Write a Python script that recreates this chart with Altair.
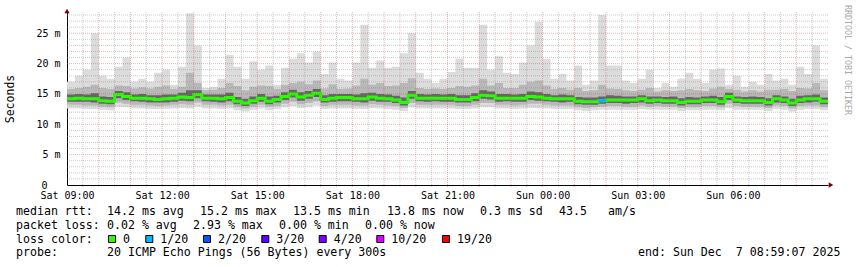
import json
import altair as alt
import pandas as pd

# ---------------- data (15-minute bins, hours since Sat 09:00) ----------------
bin_hours = [i * 0.25 for i in range(96)]

median = [14.2,14.3,14.2,14.2,13.9,13.8,14.9,14.6,14.3,14.3,14.2,14.1,14.2,14.3,14.5,14.4,14.9,14.3,14.3,14.2,14.4,13.8,13.5,13.9,
          14.3,13.8,14.1,14.6,15.0,14.5,14.8,15.1,14.1,14.3,14.4,14.4,14.2,14.2,14.5,14.3,14.2,14.0,13.6,14.8,14.3,14.3,14.3,14.3,
          14.3,14.1,14.1,14.4,14.8,14.7,14.3,14.3,14.3,14.3,14.6,14.5,14.3,14.2,14.2,14.2,13.8,13.7,13.7,13.9,14.0,14.0,14.0,14.0,
          14.2,13.9,14.0,13.9,13.9,13.6,13.8,13.8,14.0,14.0,13.7,14.6,14.0,13.9,13.9,13.9,13.6,14.2,14.0,13.5,14.0,14.2,14.2,13.8]

max_rtt = [17.0,18.0,19.0,25.0,18.0,17.5,19.5,21.0,17.0,17.5,17.0,18.5,19.0,16.5,19.5,28.3,23.0,16.0,16.2,17.5,21.4,19.5,17.5,20.4,
           19.0,19.7,16.5,19.3,20.8,21.7,20.2,22.0,18.3,20.2,17.5,17.2,20.2,26.4,19.3,20.5,19.3,19.5,21.7,25.0,18.5,17.5,16.8,17.5,
           18.6,20.8,19.3,19.3,26.4,19.0,21.2,18.5,18.3,20.2,23.0,26.9,20.8,17.5,18.3,17.2,19.7,16.5,17.2,28.0,19.7,19.7,17.2,16.8,
           17.5,19.0,16.0,16.8,16.2,17.5,18.5,17.5,16.8,19.0,19.2,16.5,18.0,16.2,17.0,16.5,18.3,17.2,17.5,16.5,19.5,18.3,23.0,17.5]

hi2 = [15.8,16.0,16.2,16.5,16.0,15.8,16.4,16.3,15.9,16.1,15.9,16.2,16.4,15.8,16.2,18.5,16.8,15.6,15.7,16.0,16.8,16.3,15.6,16.2,
       16.4,16.3,15.8,16.5,16.8,17.0,16.6,17.2,15.9,16.6,15.8,15.9,16.4,17.5,16.5,16.8,16.3,16.4,16.8,17.6,16.0,15.8,15.9,15.8,
       16.0,16.3,16.2,16.4,17.5,16.4,16.8,16.0,16.0,16.5,17.0,17.2,16.4,15.8,16.0,15.7,16.0,15.5,15.6,16.5,15.9,15.8,15.6,15.5,
       15.7,16.0,15.4,15.6,15.5,15.6,15.8,15.6,15.5,15.9,16.2,15.8,15.7,15.4,15.6,15.4,15.7,15.7,15.8,15.5,16.0,15.9,16.8,15.6]

hi1 = [14.9,15.0,14.9,15.1,14.6,14.5,15.5,15.3,14.9,15.0,14.8,14.8,14.9,14.9,15.2,15.6,15.6,14.9,14.9,14.9,15.2,14.5,14.2,14.6,
       15.0,14.6,14.7,15.3,15.7,15.3,15.5,15.8,14.8,15.0,15.0,15.0,14.9,15.1,15.2,15.0,14.9,14.7,14.4,15.5,15.0,14.9,15.0,14.9,
       15.0,14.8,14.8,15.1,15.6,15.4,15.0,15.0,14.9,15.0,15.4,15.3,15.0,14.8,14.9,14.8,14.5,14.4,14.4,14.6,14.8,14.7,14.6,14.6,
       14.8,14.6,14.6,14.5,14.6,14.3,14.5,14.4,14.6,14.7,14.5,15.2,14.6,14.5,14.6,14.5,14.3,14.8,14.6,14.2,14.7,14.8,14.9,14.4]

lo0 = [13.7,13.7,13.7,13.6,13.4,13.3,14.3,14.0,13.8,13.7,13.6,13.6,13.6,13.7,13.9,13.8,14.3,13.8,13.7,13.6,13.8,13.3,13.0,13.4,
       13.7,13.3,13.6,14.0,14.4,13.9,14.2,14.5,13.6,13.7,13.8,13.8,13.7,13.6,13.9,13.7,13.7,13.5,13.1,14.2,13.8,13.7,13.8,13.7,
       13.7,13.6,13.6,13.8,14.2,14.1,13.7,13.8,13.7,13.7,14.0,13.9,13.8,13.7,13.6,13.7,13.3,13.2,13.2,13.4,13.5,13.5,13.4,13.5,
       13.6,13.4,13.5,13.4,13.4,13.1,13.3,13.3,13.5,13.5,13.2,14.0,13.5,13.4,13.4,13.4,13.1,13.6,13.5,13.0,13.5,13.6,13.7,13.3]

lo1 = [13.2,13.2,13.1,13.1,12.9,12.8,13.6,13.4,13.2,13.2,13.1,13.0,13.1,13.2,13.3,13.2,13.6,13.2,13.2,13.1,13.2,12.8,12.6,12.9,
       13.2,12.9,13.0,13.4,13.7,13.3,13.5,13.8,13.0,13.2,13.2,13.2,13.1,13.1,13.3,13.2,13.1,13.0,12.7,13.5,13.2,13.2,13.2,13.2,
       13.2,13.0,13.0,13.2,13.5,13.5,13.2,13.2,13.1,13.2,13.4,13.4,13.2,13.1,13.1,13.1,12.8,12.7,12.8,12.9,13.0,13.0,12.9,12.9,
       13.1,12.9,13.0,12.9,12.9,12.7,12.8,12.8,13.0,13.0,12.8,13.4,13.0,12.9,12.9,12.9,12.7,13.1,13.0,12.6,13.0,13.1,13.1,12.8]

min_rtt = [12.6,12.6,12.5,12.5,12.4,12.3,12.9,12.8,12.6,12.6,12.5,12.5,12.5,12.6,12.7,12.6,12.9,12.6,12.6,12.5,12.6,12.3,12.1,12.4,
           12.6,12.3,12.5,12.8,13.0,12.7,12.8,13.1,12.5,12.6,12.6,12.6,12.5,12.5,12.7,12.6,12.5,12.4,12.2,12.8,12.6,12.6,12.6,12.6,
           12.6,12.5,12.5,12.6,12.8,12.8,12.6,12.6,12.5,12.6,12.7,12.7,12.6,12.5,12.5,12.5,12.3,12.2,12.3,12.4,12.4,12.4,12.4,12.4,
           12.5,12.4,12.4,12.4,12.4,12.2,12.3,12.3,12.4,12.4,12.3,12.7,12.4,12.4,12.4,12.4,12.2,12.5,12.4,12.1,12.4,12.5,12.5,12.3]

loss = [0,0,0,0,0,0,0,0,0,0,0,0,0,0,0,0,0,0,0,0,0,0,0,0,
        0,0,0,0,0,0,0,0,0,0,0,0,0,0,0,0,0,0,0,0,0,0,0,0,
        0,0,0,0,0,0,0,0,0,0,0,0,0,0,0,0,0,0,0,1,0,0,0,0,
        0,0,0,0,0,0,0,0,0,0,0,0,0,0,0,0,0,0,0,0,0,0,0,0]

x_tick_values = [0, 3, 6, 9, 12, 15, 18, 21]
x_tick_labels = ["Sat 09:00", "Sat 12:00", "Sat 15:00", "Sat 18:00", "Sat 21:00",
                 "Sun 00:00", "Sun 03:00", "Sun 06:00"]
y_tick_values = [0, 5, 10, 15, 20, 25]
y_tick_labels = ["0", "5 m", "10 m", "15 m", "20 m", "25 m"]

grid_minor_x = [h + 0.5 for h in range(24)]
grid_major_x = [h for h in range(1, 24)]
grid_minor_y = [v for v in range(1, 29) if v % 5]
grid_major_y = [5, 10, 15, 20, 25]

row1 = ["median rtt:", "14.2 ms avg", "15.2 ms max", "13.5 ms min", "13.8 ms now", "0.3 ms sd", "43.5", "am/s"]
row2 = ["packet loss:", "0.02 % avg", "2.93 % max", "0.00 % min", "0.00 % now"]
row3_title = "loss color:"
loss_labels = ["0", "1/20", "2/20", "3/20", "4/20", "10/20", "19/20"]
loss_colors = ["#26ff00", "#00b8ff", "#0059ff", "#5e00ff", "#7e00ff", "#dd00ff", "#ff0000"]
row4 = ["probe:", "20 ICMP Echo Pings (56 Bytes) every 300s", "end: Sun Dec  7 08:59:07 2025"]
y_title = "Seconds"
watermark = "RRDTOOL / TOBI OETIKER"

# ---------------- layout ----------------
L, T, W, H = 67, 12, 761, 173
FONT = "DejaVu Sans Mono"
LEG_FS = 11.6

df = pd.DataFrame({"t": bin_hours, "median": median, "max_rtt": max_rtt, "hi2": hi2, "hi1": hi1,
                   "lo0": lo0, "lo1": lo1, "min_rtt": min_rtt, "loss": loss})
df["t_end"] = df["t"] + 0.25
ext = pd.concat([df, df.iloc[[-1]].assign(t=24.0)], ignore_index=True)

xs = alt.Scale(domain=[0, 24], nice=False, zero=False)
ys = alt.Scale(domain=[0, 28.5], nice=False, zero=False)

x_axis = alt.Axis(values=x_tick_values, title=None, grid=False, ticks=False,
                  labelExpr=json.dumps(x_tick_labels) + "[round(datum.value/3)]",
                  labelFont=FONT, labelFontSize=10, labelColor="#000", labelPadding=5,
                  labelFlush=False, labelOverlap=False, domainColor="#000", domainWidth=1)
y_axis = alt.Axis(values=y_tick_values, title=None, grid=False, ticks=False,
                  labelExpr=json.dumps(y_tick_labels) + "[round(datum.value/5)]",
                  labelFont=FONT, labelFontSize=10, labelColor="#000",
                  labelPadding={"condition": {"test": "datum.value == 0", "value": 20}, "value": 7},
                  labelOverlap=False, labelFlush=False, domainColor="#000", domainWidth=1)


def X(field):
    return alt.X(field, scale=xs, axis=x_axis)


def Y(field):
    return alt.Y(field, scale=ys, axis=y_axis)


base = alt.Chart(ext)


def band(lo, hi, color):
    return base.mark_area(interpolate="step-after", color=color, opacity=1).encode(
        x=X("t:Q"), y=Y(f"{lo}:Q"), y2=f"{hi}:Q")


smoke_outer = band("min_rtt", "max_rtt", "#dcdcdc")
smoke_mid = band("lo1", "hi2", "#b8b8b8")
smoke_dark = band("lo0", "hi1", "#666666")

median_line = base.mark_line(interpolate="step-after", color="#26ff00", strokeWidth=3).encode(
    x=X("t:Q"), y=Y("median:Q"))

loss_df = df[df["loss"] > 0].copy()
loss_df["lc"] = [loss_colors[v] for v in loss_df["loss"]]
loss_rule = alt.Chart(loss_df).mark_rule(strokeWidth=3).encode(
    x=X("t:Q"), x2="t_end:Q", y=Y("median:Q"), color=alt.Color("lc:N", scale=None))


def vgrid(vals, color, opacity):
    return alt.Chart(pd.DataFrame({"v": vals})).mark_rule(
        color=color, strokeOpacity=opacity, strokeWidth=1, strokeDash=[1, 1]).encode(
        x=X("v:Q"), y=alt.value(0), y2=alt.value(H + 3))


def hgrid(vals, color, opacity):
    return alt.Chart(pd.DataFrame({"v": vals})).mark_rule(
        color=color, strokeOpacity=opacity, strokeWidth=1, strokeDash=[1, 1]).encode(
        y=Y("v:Q"), x=alt.value(0), x2=alt.value(W))


grids = [vgrid(grid_minor_x, "#8c8c8c", 0.45), hgrid(grid_minor_y, "#8c8c8c", 0.45),
         vgrid(grid_major_x, "#c83c3c", 0.38), hgrid(grid_major_y, "#c83c3c", 0.38)]

one = pd.DataFrame({"a": [0]})


def txt(s, px, py, size=LEG_FS, align="left", baseline="alphabetic", angle=0, color="#000"):
    return alt.Chart(one).mark_text(font=FONT, fontSize=size, align=align, baseline=baseline,
                                    angle=angle, color=color).encode(
        x=alt.value(px - L), y=alt.value(py - T), text=alt.value(s.replace(" ", "\u00a0")))


texts = []
for s, px in zip(row1, [16, 107, 200, 293, 387, 480, 559, 608]):
    texts.append(txt(s, px, 215))
for s, px in zip(row2, [16, 107, 193, 279, 365]):
    texts.append(txt(s, px, 229))
texts.append(txt(row3_title, 16, 243))
box_centers = [112, 149.3, 207, 265.3, 322.7, 380.3, 446]
boxes = []
for lab, col, cx in zip(loss_labels, loss_colors, box_centers):
    boxes.append(alt.Chart(one).mark_rect(fill=col, stroke="#000", strokeWidth=1, opacity=1).encode(
        x=alt.value(cx - 3.5 - L), x2=alt.value(cx + 3.5 - L),
        y=alt.value(235.5 - T), y2=alt.value(242.5 - T)))
    texts.append(txt(lab, cx + 11, 243))
for s, px in zip(row4, [16, 107, 638]):
    texts.append(txt(s, px, 256))
texts.append(txt(y_title, 10.7, 99, size=11.5, align="center", baseline="middle", angle=270))
texts.append(txt(watermark, 847, 60, size=8.3, align="center", baseline="middle", angle=90, color="#a8a8a8"))

arrows = [
    alt.Chart(one).mark_point(shape="triangle-up", filled=True, size=28, color="#7f0000", opacity=1).encode(
        x=alt.value(0), y=alt.value(-1)),
    alt.Chart(one).mark_point(shape="triangle-right", filled=True, size=28, color="#7f0000", opacity=1).encode(
        x=alt.value(W + 3), y=alt.value(H)),
]

chart = alt.layer(smoke_outer, smoke_mid, smoke_dark, median_line, loss_rule, *grids,
                  *arrows, *boxes, *texts).properties(
    width=W, height=H,
    autosize=alt.AutoSizeParams(type="none"),
    padding={"left": L, "top": T, "right": 857 - L - W, "bottom": 267 - T - H},
    background="#ffffff",
).configure_view(stroke=None)

chart.save("out.html", embed_options={"renderer": "svg", "actions": False})
